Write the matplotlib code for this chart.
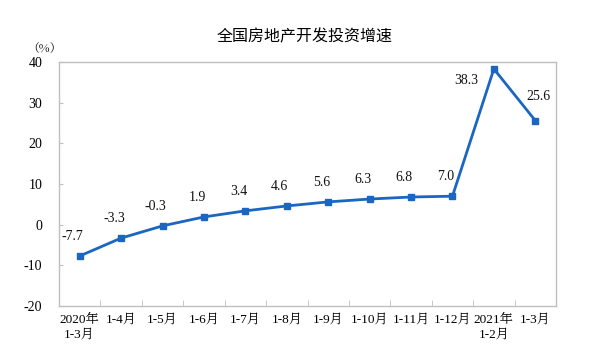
import matplotlib.pyplot as plt
import numpy as np

# Data
periods = ["2020年\n1-3月", "1-4月", "1-5月", "1-6月", "1-7月", "1-8月",
           "1-9月", "1-10月", "1-11月", "1-12月", "2021年\n1-2月", "1-3月"]
growth = [-7.7, -3.3, -0.3, 1.9, 3.4, 4.6, 5.6, 6.3, 6.8, 7.0, 38.3, 25.6]

serif = ["Liberation Serif", "Noto Serif CJK SC", "Noto Sans CJK SC"]
plt.rcParams["font.family"] = serif
plt.rcParams["axes.unicode_minus"] = False

fig = plt.figure(figsize=(6.13, 3.55), dpi=100)
ax = fig.add_axes([59 / 613, 1 - 306 / 355, 497 / 613, 244 / 355])

x = np.arange(len(growth))
ax.plot(x, growth, color="#1A66C2", lw=2.0, marker="s", ms=4.2,
        markerfacecolor="#1A66C2", markeredgecolor="#1A66C2")

for xi, v in zip(x, growth):
    dx, dy = -5, 14
    if v == 38.3:
        dx, dy = -20, -8
    elif v == 25.6:
        dx, dy = 2, 17
    ax.annotate(f"{v:.1f}", (xi, v), xytext=(dx, dy), textcoords="offset points",
                ha="center", va="center", fontsize=10, color="#111111")

ax.set_xlim(-0.5, len(growth) - 0.5)
ax.set_ylim(-20, 40)
ax.set_yticks(range(-20, 41, 10))
ax.set_xticks(x)
ax.set_xticklabels(periods, fontsize=9.5, linespacing=1.35)
ax.set_xticks(np.arange(0.5, len(growth) - 0.5, 1), minor=True)
ax.tick_params(axis="x", which="major", length=0, pad=6)
ax.tick_params(axis="x", which="minor", length=4, direction="in", color="#BFBFBF")
ax.tick_params(axis="y", length=3, direction="in", color="#BFBFBF",
               labelsize=10, pad=12)

for s in ax.spines.values():
    s.set_color("#BFBFBF")
    s.set_linewidth(1.0)

fig.text(305 / 613, 1 - 37 / 355, "全国房地产开发投资增速", ha="center", va="center",
         fontsize=11.5, family=["Noto Sans CJK SC", "DejaVu Sans"])
fig.text(44 / 613, 1 - 49 / 355, "（%）", ha="center", va="center", fontsize=8.5,
         family=["Noto Serif CJK SC", "Noto Sans CJK SC"])

fig.savefig("out.png", dpi=100)
